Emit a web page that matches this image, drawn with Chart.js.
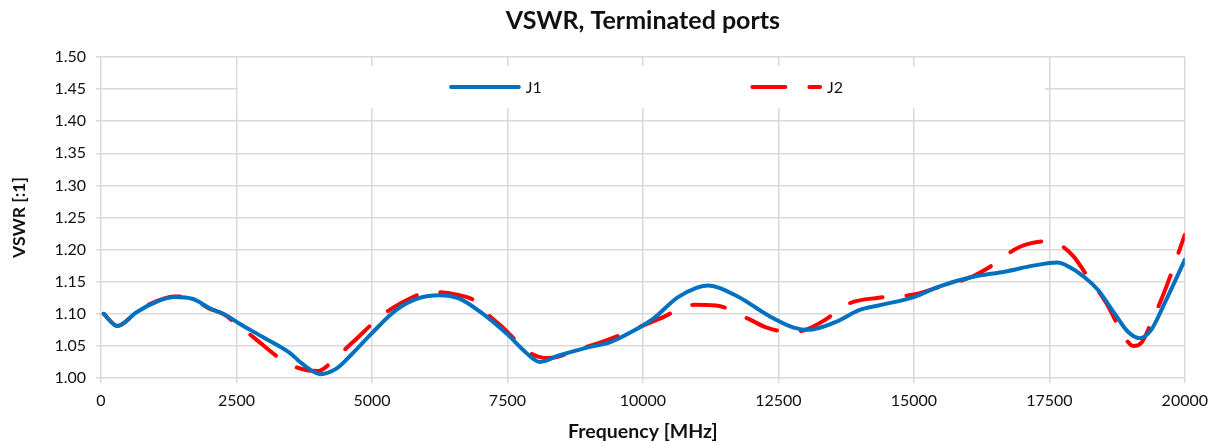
<!DOCTYPE html>
<html><head><meta charset="utf-8">
<script src="https://cdn.jsdelivr.net/npm/chart.js@4/dist/chart.umd.min.js"></script>
<style>html,body{margin:0;padding:0;background:#fff}#wrap{width:1216px;height:444px}</style>
</head><body><div id="wrap"><canvas id="c" width="1216" height="444"></canvas></div>
<script>
const chartTitle = 'VSWR, Terminated ports';
const xAxisTitle = 'Frequency [MHz]';
const yAxisTitle = 'VSWR [:1]';
const seriesNames = ['J1', 'J2'];
const xTicks = [0, 2500, 5000, 7500, 10000, 12500, 15000, 17500, 20000];
const yTicks = [1.00, 1.05, 1.10, 1.15, 1.20, 1.25, 1.30, 1.35, 1.40, 1.45, 1.50];

const freqJ1 = [50, 300, 650, 900, 1350, 1700, 2000, 2300, 2550, 3000, 3500, 3700, 4050, 4350, 4650, 5000, 5450, 5850, 6250, 6600, 7000, 7500, 7850, 8100, 8450, 8950, 9400, 9750, 10200, 10650, 11200, 11750, 12300, 12800, 13050, 13550, 14000, 14350, 15000, 15450, 16050, 16700, 17200, 17650, 17800, 18150, 18400, 18700, 18950, 19170, 19380, 19630, 20000];
const vswrJ1 = [1.100, 1.081, 1.102, 1.114, 1.126, 1.123, 1.109, 1.098, 1.085, 1.063, 1.038, 1.023, 1.006, 1.015, 1.039, 1.070, 1.106, 1.124, 1.129, 1.124, 1.103, 1.068, 1.039, 1.025, 1.035, 1.047, 1.056, 1.070, 1.093, 1.126, 1.144, 1.127, 1.098, 1.078, 1.075, 1.087, 1.106, 1.113, 1.126, 1.142, 1.157, 1.166, 1.175, 1.180, 1.176, 1.157, 1.137, 1.101, 1.072, 1.062, 1.075, 1.117, 1.184];

const freqJ2 = [50, 300, 650, 900, 1350, 1700, 2000, 2250, 2550, 2850, 3400, 3800, 4000, 4350, 4650, 5150, 5500, 6100, 6550, 6900, 7100, 7400, 7900, 8250, 8900, 9300, 9900, 10300, 10950, 11350, 11950, 12300, 12700, 13000, 13350, 13800, 14350, 15000, 15400, 16050, 16400, 16950, 17450, 17700, 17950, 18150, 18550, 18900, 19050, 19200, 19380, 19650, 20000];
const vswrJ2 = [1.100, 1.081, 1.102, 1.115, 1.127, 1.123, 1.108, 1.100, 1.081, 1.061, 1.025, 1.012, 1.011, 1.033, 1.056, 1.095, 1.115, 1.134, 1.130, 1.120, 1.102, 1.080, 1.040, 1.031, 1.047, 1.058, 1.078, 1.092, 1.114, 1.113, 1.092, 1.078, 1.072, 1.075, 1.090, 1.116, 1.125, 1.130, 1.140, 1.157, 1.173, 1.204, 1.213, 1.207, 1.189, 1.165, 1.117, 1.062, 1.050, 1.055, 1.086, 1.140, 1.223];

const TEXT = '#111111';
const GRID = '#d9d9d9';
const FONT = 'Lato';

const legendBox = {
  id: 'legendBox',
  beforeDatasetsDraw(chart) {
    const a = chart.chartArea, ctx = chart.ctx;
    const w = a.right - a.left, h = a.bottom - a.top;
    const x0 = a.left + 0.126 * w, x1 = a.left + 0.871 * w;
    const y0 = a.top + 0.028 * h, y1 = a.top + 0.159 * h;
    ctx.save();
    ctx.fillStyle = '#fff';
    ctx.fillRect(x0, y0, x1 - x0, y1 - y0);
    const cy = (y0 + y1) / 2;
    const starts = [0.323, 0.601];
    chart.data.datasets.forEach((ds, i) => {
      const lx = a.left + starts[i] * w;
      const len = 0.0625 * w;
      ctx.beginPath();
      ctx.strokeStyle = ds.borderColor;
      ctx.lineWidth = ds.borderWidth;
      ctx.lineCap = 'round';
      ctx.setLineDash(ds.borderDash || []);
      ctx.moveTo(lx, cy);
      ctx.lineTo(lx + len, cy);
      ctx.stroke();
      ctx.setLineDash([]);
      ctx.fillStyle = TEXT;
      ctx.font = '16px ' + FONT;
      ctx.textBaseline = 'middle';
      ctx.fillText(ds.label, lx + len + 7, cy + 1);
    });
    ctx.restore();
  }
};

const toPts = (xs, ys) => xs.map((f, i) => ({ x: f, y: ys[i] }));

new Chart(document.getElementById('c'), {
  type: 'line',
  data: {
    datasets: [
      { label: seriesNames[0], data: toPts(freqJ1, vswrJ1), borderColor: '#0070C0', borderWidth: 4, pointRadius: 0, cubicInterpolationMode: 'monotone', borderCapStyle: 'round', borderJoinStyle: 'round' },
      { label: seriesNames[1], data: toPts(freqJ2, vswrJ2), borderColor: '#FF0000', borderWidth: 4, pointRadius: 0, cubicInterpolationMode: 'monotone', borderCapStyle: 'round', borderJoinStyle: 'round', borderDash: [33, 24] }
    ]
  },
  options: {
    responsive: false, animation: false, devicePixelRatio: 1,
    layout: { padding: { left: 0, right: 29, top: 0, bottom: 0 } },
    plugins: {
      legend: { display: false }, tooltip: { enabled: false },
      title: { display: true, text: chartTitle, fullSize: false, color: TEXT, font: { family: FONT, size: 25, weight: 'bold', lineHeight: 1.2 }, padding: { top: 6, bottom: 21 } }
    },
    scales: {
      x: {
        type: 'linear', min: 0, max: 20000,
        afterBuildTicks(s) { s.ticks = xTicks.map(v => ({ value: v })); },
        ticks: { color: TEXT, font: { family: FONT, size: 16 }, padding: 8, maxRotation: 0, autoSkip: false, callback: v => String(v) },
        grid: { color: GRID, lineWidth: 1.5, tickLength: 5 },
        border: { display: false },
        title: { display: true, text: xAxisTitle, color: TEXT, font: { family: FONT, size: 19.5, weight: 'bold' }, padding: { top: 4, bottom: 1 } },
        afterFit(s) { s.height = 66; }
      },
      y: {
        type: 'linear', min: 1.0, max: 1.5,
        afterBuildTicks(s) { s.ticks = yTicks.map(v => ({ value: v })); },
        ticks: { color: TEXT, font: { family: FONT, size: 16 }, padding: 10, autoSkip: false, callback: v => Number(v).toFixed(2) },
        grid: { color: GRID, lineWidth: 1.5, tickLength: 5 },
        border: { display: false },
        title: { display: true, text: yAxisTitle, color: TEXT, font: { family: FONT, size: 17.5, weight: 'bold' }, padding: { top: 9, bottom: 0 } },
        afterFit(s) { s.width = 101; }
      }
    }
  },
  plugins: [legendBox]
});
</script>
</body></html>
